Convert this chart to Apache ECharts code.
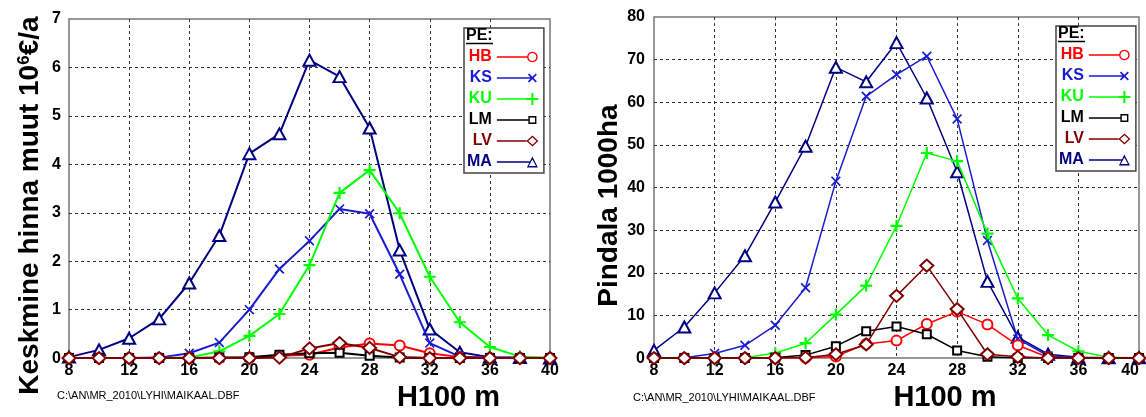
<!DOCTYPE html>
<html><head><meta charset="utf-8">
<script src="https://cdn.jsdelivr.net/npm/echarts@6/dist/echarts.min.js"></script>
<style>html,body{margin:0;padding:0;background:#fff}#c{width:1146px;height:417px}</style>
</head><body><div id="c"></div>
<script>
// ---- data ----
const heights = [8,10,12,14,16,18,20,22,24,26,28,30,32,34,36,38,40];
const xTicks = [8,12,16,20,24,28,32,36,40];
const leftTicksY = [0,1,2,3,4,5,6,7];
const rightTicksY = [0,10,20,30,40,50,60,70,80];
const seriesNames = ['HB','KS','KU','LM','LV','MA'];

// Left chart: Keskmine hinna muut 10^6 €/a
const priceHB = [0,0,0,0,0,0,0.01,0.05,0.07,0.22,0.3,0.26,0.1,0.02,0,0,0];
const priceKS = [0,0,0,0.01,0.1,0.32,1.0,1.84,2.42,3.08,2.98,1.73,0.31,0.03,0.01,0,0];
const priceKU = [0,0,0,0,0.01,0.14,0.46,0.91,1.92,3.41,3.88,2.99,1.68,0.74,0.23,0.03,0];
const priceLM = [0,0,0,0,0,0.01,0.02,0.07,0.1,0.11,0.05,0.01,0,0,0,0,0];
const priceLV = [0,0,0,0,0,0,0,0.01,0.2,0.31,0.21,0.02,0,0,0,0,0];
const priceMA = [0.02,0.17,0.41,0.81,1.55,2.53,4.22,4.63,6.15,5.81,4.75,2.23,0.6,0.12,0.02,0.01,0];

// Right chart: Pindala 1000ha
const areaHB = [0,0,0,0,0,0.1,0.4,3.3,4.1,8.0,10.9,7.9,3.0,0.2,0,0,0];
const areaKS = [0,0.1,1.1,3.0,7.7,16.5,41.5,61.4,66.5,70.8,56.1,27.6,4.5,0.5,0.1,0,0];
const areaKU = [0,0,0,0.1,1.2,3.5,10.2,17.0,31.0,48.1,46.2,29.2,14.0,5.4,1.6,0.2,0];
const areaLM = [0,0,0,0,0.1,0.7,2.8,6.3,7.4,5.6,1.8,0.3,0,0,0,0,0];
const areaLV = [0,0,0,0,0,0.1,0.9,3.2,14.6,21.7,11.5,0.9,0.3,0,0,0,0];
const areaMA = [1.8,7.3,15.3,24.0,36.6,49.7,68.2,64.8,74.0,61.0,43.7,18.0,4.9,0.9,0.2,0.1,0.1];

// ---- styles ----
const FONT = '"Liberation Sans", Arial, sans-serif';
const colors = {HB:'#ff0000', KS:'#1a1ad0', KU:'#00ff00', LM:'#000000', LV:'#800000', MA:'#000080'};
const symbols = {
  HB: {symbol:'emptyCircle', size:10, bw:1.5},
  KS: {symbol:'path://M0 1.2 L1.2 0 L5 3.8 L8.8 0 L10 1.2 L6.2 5 L10 8.8 L8.8 10 L5 6.2 L1.2 10 L0 8.8 L3.8 5 Z', size:10, bw:0},
  KU: {symbol:'path://M4.1 0 L5.9 0 L5.9 4.1 L10 4.1 L10 5.9 L5.9 5.9 L5.9 10 L4.1 10 L4.1 5.9 L0 5.9 L0 4.1 L4.1 4.1 Z', size:12, bw:0},
  LM: {symbol:'emptyRect', size:8, bw:1.5},
  LV: {symbol:'emptyDiamond', size:[13,12], bw:1.5},
  MA: {symbol:'emptyTriangle', size:[12,11], bw:1.5}
};

// legend icons: line with marker at right end (box 42 x 14)
function poly(pts){ return 'M' + pts.map(p => p[0].toFixed(2)+' '+p[1].toFixed(2)).join(' L') + ' Z '; }
function ring(cx, cy, r, dir){
  const pts = [];
  for (let k = 0; k < 24; k++) { const a = dir * k * Math.PI * 2 / 24; pts.push([cx + r*Math.cos(a), cy + r*Math.sin(a)]); }
  return poly(pts);
}
function iconPath(kind){
  const cx = 35.5, cy = 7;
  let s = 'path://M0 0 L0.01 0 L0 0.01 Z M42 14 L41.99 14 L42 13.99 Z ';
  const line = end => poly([[0,6.2],[end,6.2],[end,7.8],[0,7.8]]);
  if (kind === 'HB') { s += line(30.2) + ring(cx,cy,5.3,1) + ring(cx,cy,3.9,-1); }
  else if (kind === 'KS') {
    const a = 4.5, t = 1.2;
    s += line(cx) + poly([[-a,-a+t],[-a+t,-a],[0,-t],[a-t,-a],[a,-a+t],[t,0],[a,a-t],[a-t,a],[0,t],[-a+t,a],[-a,a-t],[-t,0]].map(p=>[cx+p[0],cy+p[1]]));
  } else if (kind === 'KU') {
    s += line(cx) + poly([[-1,-6],[1,-6],[1,-1],[6,-1],[6,1],[1,1],[1,6],[-1,6],[-1,1],[-6,1],[-6,-1],[-1,-1]].map(p=>[cx+p[0],cy+p[1]]));
  } else if (kind === 'LM') {
    s += line(31.5) + poly([[31.5,3],[39.5,3],[39.5,11],[31.5,11]]) + poly([[32.9,4.4],[32.9,9.6],[38.1,9.6],[38.1,4.4]]);
  } else if (kind === 'LV') {
    s += line(29.6) + poly([[29.5,7],[35.5,1.5],[41.5,7],[35.5,12.5]]) + poly([[31.4,7],[35.5,10.7],[39.6,7],[35.5,3.3]]);
  } else if (kind === 'MA') {
    s += line(32.8) + poly([[35.5,1.5],[41,12.5],[30,12.5]]) + poly([[35.5,4.6],[31.9,11.1],[39.1,11.1]]);
  }
  return s;
}

const leftData = {HB:priceHB, KS:priceKS, KU:priceKU, LM:priceLM, LV:priceLV, MA:priceMA};
const rightData = {HB:areaHB, KS:areaKS, KU:areaKU, LM:areaLM, LV:areaLV, MA:areaMA};
const drawOrder = ['MA','KS','KU','HB','LM','LV'];

function makeSeries(dataMap, idx, lw){
  return drawOrder.map((n, k) => ({
    type:'line', name:n, xAxisIndex:idx, yAxisIndex:idx,
    data: heights.map((h,i) => [h, dataMap[n][i]]),
    color: colors[n],
    symbol: symbols[n].symbol, symbolSize: symbols[n].size, showAllSymbol:true,
    lineStyle:{width:lw, color:colors[n]},
    itemStyle:{color:colors[n], borderColor:colors[n], borderWidth:symbols[n].bw},
    emphasis:{disabled:true}, z: 3 + k*0.1, animation:false
  }));
}

function legendCfg(left, top){
  return {
    orient:'vertical', left:left, top:top, align:'right',
    itemWidth:42, itemHeight:14, itemGap:5, padding:[21,5,3,3],
    borderColor:'#444', borderWidth:1.5, backgroundColor:'#fff',
    itemStyle:{borderWidth:0}, selectedMode:false,
    textStyle:{fontSize:16, fontWeight:'bold', fontFamily:FONT},
    data: seriesNames.map(n => ({name:n, icon:iconPath(n), textStyle:{color:colors[n]}}))
  };
}

function xAxisCfg(idx, padLeft, alignMax){
  return {
    type:'value', gridIndex:idx, min:xTicks[0], max:xTicks[xTicks.length-1], interval:xTicks[1]-xTicks[0],
    axisLine:{show:false}, axisTick:{show:false},
    axisLabel:{fontSize:16, fontWeight:'bold', color:'#000', margin:4, fontFamily:FONT, alignMaxLabel: alignMax ? 'right' : null},
    splitLine:{show:true, showMinLine:false, showMaxLine:false, lineStyle:{color:'#333', type:[3,3], width:1}},
    name:'H100 m', nameLocation:'middle', nameGap:19,
    nameTextStyle:{fontSize:29, fontWeight:'bold', color:'#000', fontFamily:FONT, padding:[0,0,0,padLeft]}
  };
}
function yAxisCfg(idx, ticks, name, gap, padRight, rich, margin){
  return {
    type:'value', gridIndex:idx, min:ticks[0], max:ticks[ticks.length-1], interval:ticks[1]-ticks[0],
    axisLine:{show:false}, axisTick:{show:false},
    axisLabel:{fontSize:16, fontWeight:'bold', color:'#000', margin:margin, fontFamily:FONT},
    splitLine:{show:true, showMinLine:false, showMaxLine:false, lineStyle:{color:'#333', type:[3,3], width:1}},
    name:name, nameLocation:'middle', nameGap:gap, nameRotate:90,
    nameTextStyle:{fontSize:28, fontWeight:'bold', color:'#000', fontFamily:FONT, padding:[0,padRight,0,0], rich:rich}
  };
}

const chart = echarts.init(document.getElementById('c'), null, {renderer:'canvas'});
const option = {
  animation:false,
  backgroundColor:'#fff',
  grid:[
    {left:69, top:19, width:481, height:348, show:true, borderColor:'#777', borderWidth:1.5, backgroundColor:'transparent'},
    {left:654, top:17, width:485, height:351, show:true, borderColor:'#777', borderWidth:1.5, backgroundColor:'transparent'}
  ],
  xAxis:[ xAxisCfg(0, 278, false), xAxisCfg(1, 97, true) ],
  yAxis:[
    yAxisCfg(0, leftTicksY, '{b|Keskmine hinna muut 10}{s|6}{b|€/a}', 25, 34,
      {b:{fontSize:28, fontWeight:'bold', fontFamily:FONT, color:'#000'}, s:{fontSize:17, fontWeight:'bold', fontFamily:FONT, color:'#000', verticalAlign:'top'}}, 8),
    yAxisCfg(1, rightTicksY, 'Pindala 1000ha', 30, 36, undefined, 9)
  ],
  legend:[ legendCfg(464, 28), legendCfg(1056, 26) ],
  graphic:[
    {type:'text', x:466, y:28, z:100, style:{text:'PE:', font:'bold 16px ' + FONT, fill:'#000', align:'left', verticalAlign:'top'}},
    {type:'line', z:100, shape:{x1:466, y1:43.5, x2:493, y2:43.5}, style:{stroke:'#000', lineWidth:1.5}},
    {type:'text', x:1058, y:26, z:100, style:{text:'PE:', font:'bold 16px ' + FONT, fill:'#000', align:'left', verticalAlign:'top'}},
    {type:'line', z:100, shape:{x1:1058, y1:41.5, x2:1085, y2:41.5}, style:{stroke:'#000', lineWidth:1.5}},
    {type:'text', x:57, y:396, z:100, style:{text:'C:\\AN\\MR_2010\\LYHI\\MAIKAAL.DBF', font:'11px ' + FONT, fill:'#000', align:'left', verticalAlign:'middle'}},
    {type:'text', x:633, y:398, z:100, style:{text:'C:\\AN\\MR_2010\\LYHI\\MAIKAAL.DBF', font:'11px ' + FONT, fill:'#000', align:'left', verticalAlign:'middle'}}
  ],
  series:[ ...makeSeries(leftData, 0, 2), ...makeSeries(rightData, 1, 1.5) ]
};
chart.setOption(option);
</script>
</body></html>
